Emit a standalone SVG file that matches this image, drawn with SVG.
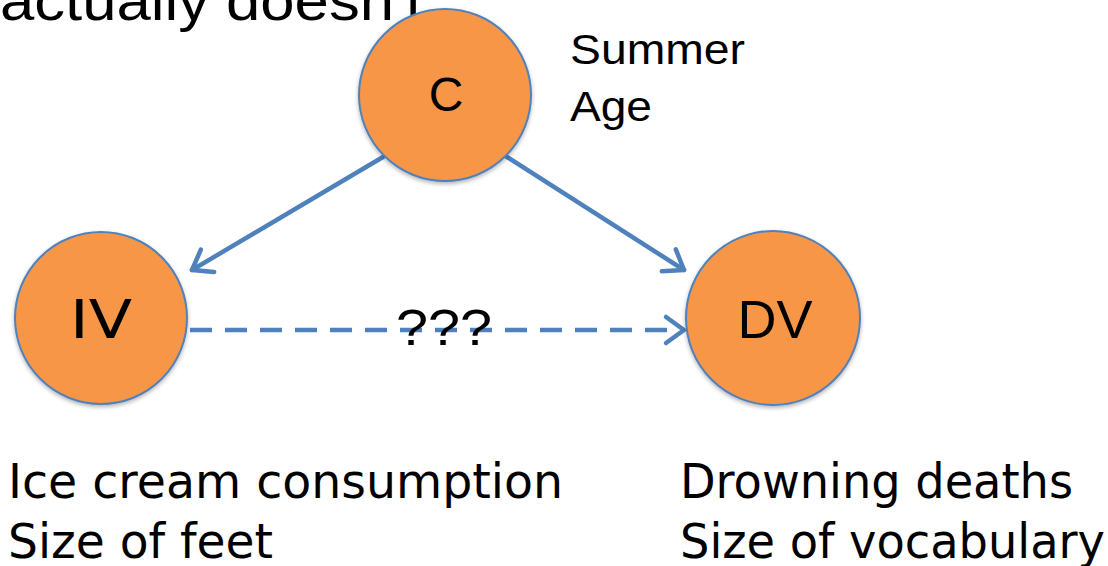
<svg xmlns="http://www.w3.org/2000/svg" width="1108" height="566" viewBox="0 0 1108 566">
  <style>
    .node { fill: #F79646; stroke: #4F81BD; stroke-width: 2; filter: url(#shadow); }
    .edge { fill: none; stroke: #4F81BD; stroke-width: 4.5; stroke-linecap: round; }
    .dash { stroke-dasharray: 22 13; stroke-linecap: butt; }
    .sans { font-family: "Liberation Sans", Arial, sans-serif; fill: #000; }
    .verd { font-family: "DejaVu Sans", Verdana, sans-serif; fill: #000; }
  </style>
  <defs>
    <filter id="shadow" x="-20%" y="-20%" width="140%" height="140%">
      <feGaussianBlur in="SourceAlpha" stdDeviation="2"/>
      <feOffset dx="0" dy="2" result="b"/>
      <feComponentTransfer><feFuncA type="linear" slope="0.3"/></feComponentTransfer>
      <feMerge><feMergeNode/><feMergeNode in="SourceGraphic"/></feMerge>
    </filter>
    <marker id="head" markerUnits="userSpaceOnUse" markerWidth="40" markerHeight="40" refX="30" refY="20" orient="auto" overflow="visible">
      <path d="M12,7 L30,20 L12,33" fill="none" stroke="#4F81BD" stroke-width="4.5" stroke-linecap="round" stroke-linejoin="round"/>
    </marker>
  </defs>

  <!-- heading text running off the top edge -->
  <text class="sans" x="0" y="20" font-size="56" textLength="440" lengthAdjust="spacingAndGlyphs">actually doesn't.</text>

  <g id="connectors">
    <line class="edge" x1="383" y1="157" x2="192" y2="270" marker-end="url(#head)"/>
    <line class="edge" x1="507" y1="157" x2="684" y2="270" marker-end="url(#head)"/>
    <line class="edge dash" x1="190" y1="330" x2="684" y2="330" marker-end="url(#head)"/>
    <text class="sans" x="396" y="345" font-size="50" textLength="96" lengthAdjust="spacingAndGlyphs">???</text>
  </g>

  <g id="node-c">
    <circle class="node" cx="445" cy="95" r="86"/>
    <text class="sans" x="446" y="111" font-size="48" text-anchor="middle">C</text>
    <text class="sans" x="570" y="64" font-size="42" textLength="175" lengthAdjust="spacingAndGlyphs">Summer</text>
    <text class="sans" x="570" y="121" font-size="42" textLength="82" lengthAdjust="spacingAndGlyphs">Age</text>
  </g>

  <g id="node-iv">
    <circle class="node" cx="101" cy="318" r="86"/>
    <text class="verd" x="101" y="338" font-size="54" text-anchor="middle" textLength="62" lengthAdjust="spacingAndGlyphs">IV</text>
    <text class="verd" x="8" y="498" font-size="48" textLength="555" lengthAdjust="spacingAndGlyphs">Ice cream consumption</text>
    <text class="verd" x="8" y="558" font-size="48" textLength="265" lengthAdjust="spacingAndGlyphs">Size of feet</text>
  </g>

  <g id="node-dv">
    <circle class="node" cx="773" cy="318" r="87"/>
    <text class="sans" x="775" y="338" font-size="54" text-anchor="middle">DV</text>
    <text class="verd" x="680" y="498" font-size="48" textLength="393" lengthAdjust="spacingAndGlyphs">Drowning deaths</text>
    <text class="verd" x="680" y="558" font-size="48" textLength="425" lengthAdjust="spacingAndGlyphs">Size of vocabulary</text>
  </g>
</svg>
